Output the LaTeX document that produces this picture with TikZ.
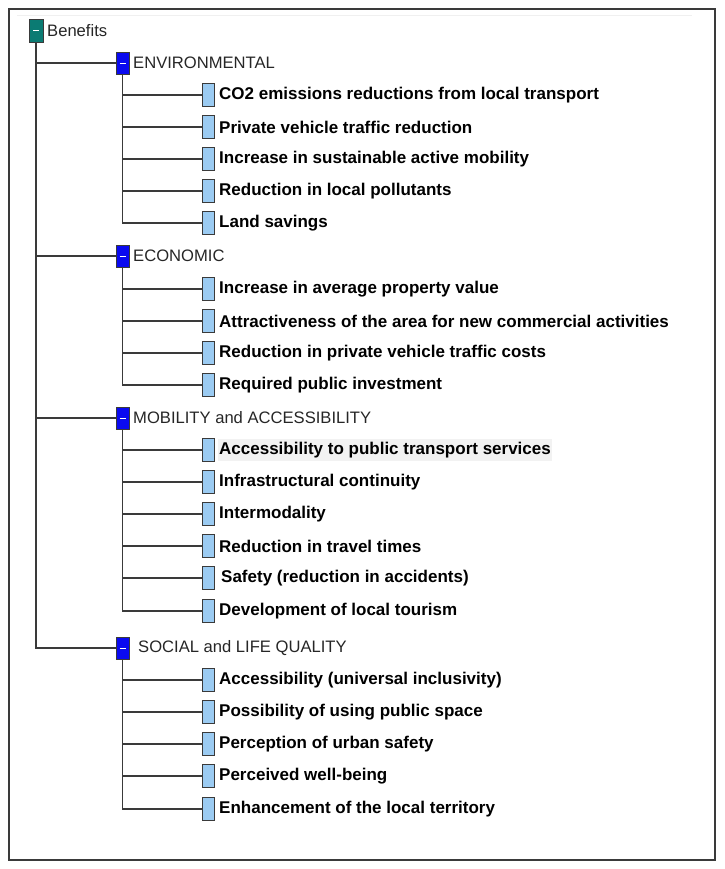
\documentclass[tikz,border=0pt]{standalone}
\usepackage{fontspec}
\setmainfont{Liberation Sans}
\definecolor{rootc}{HTML}{0B7B73}
\definecolor{catc}{HTML}{0A0AF0}
\definecolor{leafc}{HTML}{9BCBF2}
\definecolor{edgec}{HTML}{3A3A3A}
\definecolor{hl}{HTML}{F2F2F2}
\tikzset{
  minus/.style={path picture={\draw[white,line width=0.9pt]
     ([xshift=-3pt]path picture bounding box.center) -- ([xshift=3pt]path picture bounding box.center);}},
  rootbox/.style={draw=edgec,line width=0.9pt,fill=rootc,minimum width=14pt,minimum height=23pt,inner sep=0pt,minus},
  catbox/.style={draw=edgec,line width=0.9pt,fill=catc,minimum width=13pt,minimum height=22pt,inner sep=0pt,minus},
  leafbox/.style={draw=edgec,line width=0.9pt,fill=leafc,minimum width=12pt,minimum height=23pt,inner sep=0pt},
  cattext/.style={anchor=west,inner sep=0pt,font=\fontsize{16.6}{19}\selectfont,text=black!85},
  leaftext/.style={anchor=west,inner sep=0pt,font=\fontsize{17}{19}\selectfont\bfseries},
  conn/.style={draw=edgec,line width=1.1pt},
}
\begin{document}
\begin{tikzpicture}[x=1pt,y=-1pt]
\useasboundingbox (0,0) rectangle (724,869);
\draw[edgec,line width=1.2pt] (9,9) rectangle (715,860);
\draw[black!6,line width=1pt] (17,16) -- (692,16);
% root
\node[rootbox] (root) at (36,30.5) {};
\node[cattext] (roott) at (47,31) {Benefits};
% categories
\node[catbox] (c1) at (122.5,63) {};
\node[cattext] (c1t) at (133,63) {ENVIRONMENTAL};
\node[catbox] (c2) at (122.5,256) {};
\node[cattext] (c2t) at (133,256) {ECONOMIC};
\node[catbox] (c3) at (122.5,418) {};
\node[cattext] (c3t) at (133,418) {MOBILITY and ACCESSIBILITY};
\node[catbox] (c4) at (122.5,648) {};
\node[cattext] (c4t) at (138,648) {SOCIAL and LIFE QUALITY};
% leaves
\foreach \n/\y/\t in {
 l11/95/{CO2 emissions reductions from local transport},
 l12/127/{Private vehicle traffic reduction},
 l13/159/{Increase in sustainable active mobility},
 l14/191/{Reduction in local pollutants},
 l15/223/{Land savings},
 l21/289/{Increase in average property value},
 l22/321/{Attractiveness of the area for new commercial activities},
 l23/353/{Reduction in private vehicle traffic costs},
 l24/385/{Required public investment},
 l32/482/{Infrastructural continuity},
 l33/514/{Intermodality},
 l34/546/{Reduction in travel times},
 l36/611/{Development of local tourism},
 l41/680/{Accessibility (universal inclusivity)},
 l42/712/{Possibility of using public space},
 l43/744/{Perception of urban safety},
 l44/776/{Perceived well-being},
 l45/809/{Enhancement of the local territory}}{
  \node[leafbox] (\n) at (208,\y) {};
  \node[leaftext] (\n t) at (219,\y) {\t};
}
\node[leafbox] (l31) at (208,450) {};
\node[leaftext,fill=hl,inner ysep=3pt,inner xsep=1.5pt] (l31t) at (217.5,450) {Accessibility to public transport services};
\node[leafbox] (l35) at (208,578) {};
\node[leaftext] (l35t) at (221,578) {Safety (reduction in accidents)};
% connectors
\draw[conn] (root.south) |- (c4.west);
\foreach \c in {c1,c2,c3}{\draw[conn] (root.south |- \c.west) -- (\c.west);}
\draw[conn] (c1.south) |- (l15.west);
\foreach \l in {l11,l12,l13,l14}{\draw[conn] (c1.south |- \l.west) -- (\l.west);}
\draw[conn] (c2.south) |- (l24.west);
\foreach \l in {l21,l22,l23}{\draw[conn] (c2.south |- \l.west) -- (\l.west);}
\draw[conn] (c3.south) |- (l36.west);
\foreach \l in {l31,l32,l33,l34,l35}{\draw[conn] (c3.south |- \l.west) -- (\l.west);}
\draw[conn] (c4.south) |- (l45.west);
\foreach \l in {l41,l42,l43,l44}{\draw[conn] (c4.south |- \l.west) -- (\l.west);}
\end{tikzpicture}
\end{document}
